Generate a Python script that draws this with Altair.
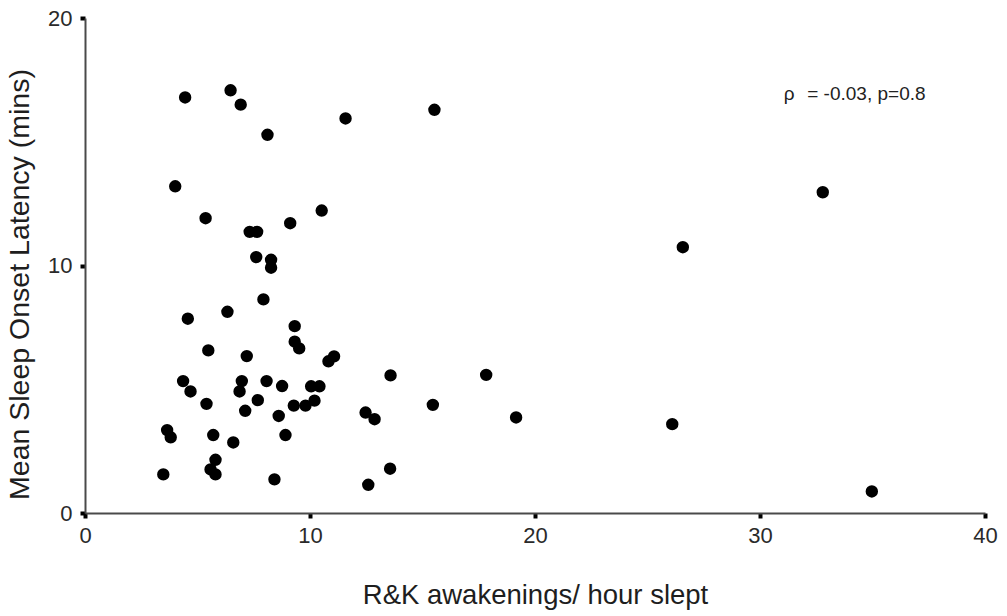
import altair as alt
import pandas as pd

# R&K awakenings per hour slept (x) and mean sleep onset latency in minutes (y)
awakenings = [
    4.45, 6.47, 6.92, 8.11, 11.58, 15.53,
    4.01, 5.36, 7.32, 7.65, 9.12, 10.52,
    7.61, 8.27, 8.27, 7.93,
    4.57, 6.33, 9.32, 9.32, 9.52, 5.48, 7.19, 10.82, 11.07, 13.58,
    4.36, 4.69, 6.97, 6.87, 8.07, 8.76, 10.05, 10.42,
    5.40, 7.68, 7.12, 9.28, 9.80, 10.20, 8.61, 12.47, 12.87,
    3.65, 3.81, 5.70, 6.59, 8.91,
    5.80, 5.58, 5.80, 3.48, 8.42, 12.59, 13.56,
    17.83, 15.46, 19.16, 26.10, 26.57, 32.79, 34.97,
]
latency = [
    16.79, 17.08, 16.50, 15.28, 15.94, 16.29,
    13.20, 11.91, 11.36, 11.36, 11.71, 12.22,
    10.34, 10.23, 9.91, 8.63,
    7.85, 8.13, 7.55, 6.92, 6.65, 6.57, 6.34, 6.13, 6.33, 5.56,
    5.33, 4.91, 5.33, 4.91, 5.33, 5.13, 5.12, 5.12,
    4.41, 4.56, 4.13, 4.34, 4.34, 4.54, 3.92, 4.06, 3.79,
    3.35, 3.06, 3.15, 2.85, 3.15,
    2.15, 1.76, 1.56, 1.56, 1.36, 1.14, 1.79,
    5.58, 4.37, 3.86, 3.59, 10.74, 12.96, 0.87,
]

x_ticks = [0, 10, 20, 30, 40]
y_ticks = [0, 10, 20]

stat_symbol = ["ρ"]
stat_text = ["= -0.03, p=0.8"]

df = pd.DataFrame({"awak": awakenings, "sol": latency})

FONT = "Liberation Sans"

x_enc = alt.X(
    "awak:Q",
    title="R&K awakenings/ hour slept",
    scale=alt.Scale(domain=[0, 40], nice=False, zero=True),
    axis=alt.Axis(
        values=x_ticks,
        format="d",
        labelFlush=False,
        titleFontSize=27.5,
        titleY=90,
        titleBaseline="alphabetic",
        labelPadding=7,
    ),
)
y_enc = alt.Y(
    "sol:Q",
    title="Mean Sleep Onset Latency (mins)",
    scale=alt.Scale(domain=[0, 20], nice=False, zero=True),
    axis=alt.Axis(
        values=y_ticks,
        format="d",
        labelFlush=False,
        titleFontSize=28.5,
        titleX=-57,
        titleY=266,
        titleAngle=-90,
        titleAlign="center",
        titleBaseline="alphabetic",
        labelPadding=8,
    ),
)

points = alt.Chart(df).mark_circle(size=154, color="black", opacity=1).encode(
    x=x_enc, y=y_enc
)

# Spearman correlation note in the upper right
rho = alt.Chart(pd.DataFrame({"t": stat_symbol})).mark_text(
    font=FONT, fontSize=19, color="#222", align="center", baseline="alphabetic",
).encode(text="t:N", x=alt.datum(31.3), y=alt.datum(16.69))

stat = alt.Chart(pd.DataFrame({"t": stat_text})).mark_text(
    font=FONT, fontSize=19, color="#222", align="left", baseline="alphabetic",
).encode(text="t:N", x=alt.datum(32.1), y=alt.datum(16.69))

chart = (
    alt.layer(points, rho, stat)
    .properties(
        width=900,
        height=495,
        padding={"left": 85, "top": 18, "right": 22, "bottom": 103},
        autosize=alt.AutoSizeParams(type="none"),
        background="white",
    )
    .configure_view(stroke=None)
    .configure_axis(
        grid=False,
        domainColor="#4a4a4a",
        domainWidth=2,
        tickColor="black",
        tickSize=5,
        tickWidth=4,
        labelFont=FONT,
        labelFontSize=22,
        labelColor="#2a2a2a",
        titleFont=FONT,
        titleFontWeight="normal",
        titleColor="#1e1e1e",
    )
)

chart.save("out.html", embed_options={"renderer": "svg", "actions": False})
